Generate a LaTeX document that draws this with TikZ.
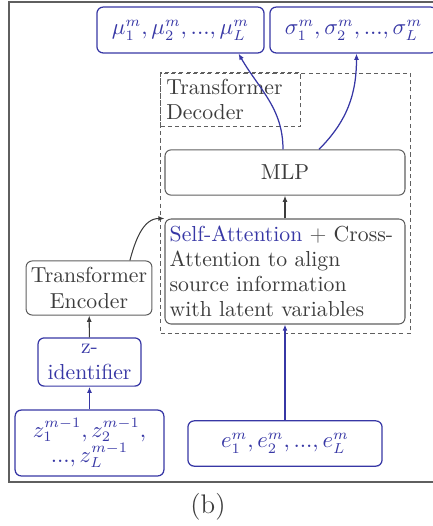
\documentclass[tikz,border=0pt]{standalone}
\usetikzlibrary{arrows.meta,calc}
\definecolor{zblue}{RGB}{55,55,165}
\definecolor{tgray}{RGB}{60,60,60}
\definecolor{lgray}{RGB}{95,95,95}
\tikzset{
  every node/.style={font=\fontsize{10.5}{12.2}\selectfont},
  gbox/.style={draw=lgray, rounded corners=3pt, text=tgray, align=center, line width=0.5pt},
  bbox/.style={draw=zblue, rounded corners=3pt, text=zblue, align=center, line width=0.6pt},
  dbox/.style={draw=lgray, dash pattern=on 2pt off 1.5pt, line width=0.5pt},
  karr/.style={-{Latex[length=3pt,width=2.4pt]}, tgray, line width=0.5pt},
  barr/.style={-{Latex[length=3pt,width=2.4pt]}, zblue, line width=0.6pt}
}
\begin{document}
\begin{tikzpicture}[x=0.017cm, y=-0.017cm]
\useasboundingbox (0,0) rectangle (433,526);
\draw[lgray, line width=0.8pt] (9,2) rectangle (440,482);
% decoder part
\node[dbox, anchor=north west, minimum width=4.25cm, minimum height=4.42cm] (dec) at (160,73) {};
\node[dbox, anchor=north west, text=tgray, align=left, inner sep=0.1cm, text width=2.18cm, minimum height=0.92cm] (declbl) at (160,72) {Transformer\\Decoder};
\node[gbox, minimum width=4.08cm, minimum height=0.77cm] (mlp) at (285,172.5) {MLP};
\node[gbox, align=left, text width=3.92cm, inner sep=0.08cm, minimum height=1.785cm] (attn) at (285,271.5)
  {\textcolor{zblue}{Self-Attention} \textcolor{lgray}{+} Cross-\\Attention to align\\source information\\with latent variables};
% outputs
\node[bbox, minimum width=2.84cm, minimum height=0.78cm] (mu) at (180.5,30) {$\mu_1^m, \mu_2^m, ..., \mu_L^m$};
\node[bbox, minimum width=2.84cm, minimum height=0.78cm] (sigma) at (353.5,30) {$\sigma_1^m, \sigma_2^m, ..., \sigma_L^m$};
% encoder part
\node[gbox, minimum width=2.14cm, minimum height=0.92cm, inner sep=1pt] (enc) at (89,288) {Transformer\\Encoder};
\node[bbox, minimum width=1.75cm, minimum height=0.82cm, inner sep=1pt] (zid) at (89.5,362) {z-\\identifier};
\node[bbox, minimum width=2.53cm, minimum height=1.12cm, inner sep=1pt] (zin) at (89.5,443) {$z_1^{m-1}, z_2^{m-1},$\\$..., z_L^{m-1}$};
\node[bbox, minimum width=3.3cm, minimum height=0.77cm] (ein) at (285,443.5) {$e_1^m, e_2^m, ..., e_L^m$};
% connectors
\draw[barr] (zin) -- (zid);
\draw[karr] (zid) -- (enc);
\draw[karr] (enc.34) to[out=75,in=180] (attn.north west);
\draw[barr] (ein) -- (attn);
\draw[karr] (attn) -- (mlp);
\draw[barr] ($(mlp.north)+(-2,0)$) to[out=90,in=-60] ($(mu.south)+(58,0)$);
\draw[barr] ($(mlp.north)+(34,0)$) to[out=45,in=-90] ($(sigma.south)+(3,0)$);
\node[text=tgray, font=\fontsize{13}{15}\selectfont] (cap) at (208,507) {(b)};
\end{tikzpicture}
\end{document}
